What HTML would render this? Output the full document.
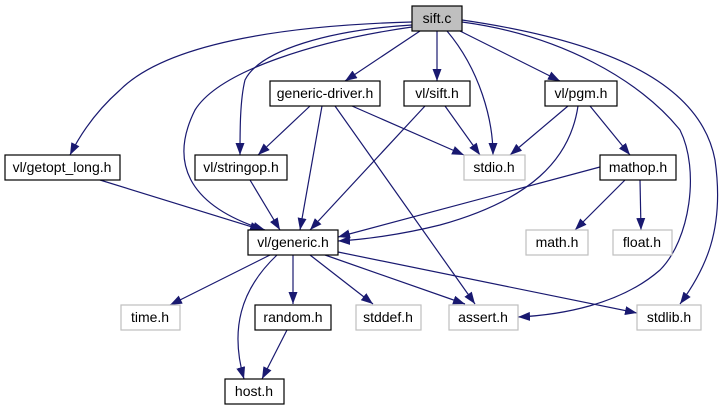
<!DOCTYPE html>
<html><head><meta charset="utf-8"><style>
html,body{margin:0;padding:0;background:#fff;}
svg{display:block;}
text{font-family:"Liberation Sans",sans-serif;font-size:14px;text-anchor:middle;fill:#000;}
</style></head><body>
<svg width="725" height="411" viewBox="0 0 725 411" xmlns="http://www.w3.org/2000/svg">
<defs>
<marker id="a" markerWidth="12" markerHeight="9" refX="12" refY="4.5" orient="auto" markerUnits="userSpaceOnUse">
<path d="M0,0 L12,4.5 L0,9 Z" fill="#191970"/>
</marker>
</defs>
<g fill="none" stroke="#191970" stroke-width="1.2" marker-end="url(#a)">
<path d="M420,31 L345,81"/>
<path d="M437,31 L437,81"/>
<path d="M447,31 C480,70 493,120 493,155"/>
<path d="M460,31 L560,81"/>
<path d="M412,22 C300,25 170,40 120,90 C95,112 80,135 70,155"/>
<path d="M412,25 C330,30 260,50 245,80 C240,100 240,130 240,155"/>
<path d="M412,27 C320,40 220,70 195,110 C170,160 185,205 265,230"/>
<path d="M462,22 C560,35 640,80 680,130 C700,170 690,240 660,270 C620,305 560,315 518,317"/>
<path d="M462,20 C600,40 700,80 715,160 C725,230 705,270 680,304"/>
<path d="M310,106 L258,155"/>
<path d="M322,106 L300,230"/>
<path d="M352,106 L464,155"/>
<path d="M335,106 L475,304"/>
<path d="M445,106 L480,155"/>
<path d="M425,106 L310,230"/>
<path d="M568,106 L510,155"/>
<path d="M578,106 C570,160 530,200 440,225 C400,235 360,240 338,241"/>
<path d="M590,106 L630,155"/>
<path d="M100,180 L262,230"/>
<path d="M250,180 L280,230"/>
<path d="M600,167 L338,237"/>
<path d="M625,180 L575,230"/>
<path d="M640,180 L641,230"/>
<path d="M270,255 L170,305"/>
<path d="M277,255 C240,290 230,330 244,379"/>
<path d="M293,255 L293,304"/>
<path d="M310,255 L373,304"/>
<path d="M325,255 L465,304"/>
<path d="M338,252 L637,313"/>
<path d="M287,330 L262,379"/>
</g>
<g stroke-width="1.2">
<rect x="412" y="6" width="50" height="25" fill="#bfbfbf" stroke="#000"/>
<rect x="270" y="81" width="110" height="25" fill="#fff" stroke="#000"/>
<rect x="404" y="81" width="66" height="25" fill="#fff" stroke="#000"/>
<rect x="545" y="81" width="72" height="25" fill="#fff" stroke="#000"/>
<rect x="5" y="155" width="115" height="25" fill="#fff" stroke="#000"/>
<rect x="195" y="155" width="92" height="25" fill="#fff" stroke="#000"/>
<rect x="464" y="155" width="61" height="25" fill="#fff" stroke="#bfbfbf"/>
<rect x="600" y="155" width="76" height="25" fill="#fff" stroke="#000"/>
<rect x="248" y="230" width="90" height="25" fill="#fff" stroke="#000"/>
<rect x="526" y="230" width="62" height="25" fill="#fff" stroke="#bfbfbf"/>
<rect x="613" y="230" width="59" height="25" fill="#fff" stroke="#bfbfbf"/>
<rect x="121" y="305" width="59" height="25" fill="#fff" stroke="#bfbfbf"/>
<rect x="255" y="305" width="76" height="25" fill="#fff" stroke="#000"/>
<rect x="356" y="305" width="65" height="25" fill="#fff" stroke="#bfbfbf"/>
<rect x="449" y="305" width="69" height="25" fill="#fff" stroke="#bfbfbf"/>
<rect x="637" y="305" width="64" height="25" fill="#fff" stroke="#bfbfbf"/>
<rect x="225" y="379" width="59" height="25" fill="#fff" stroke="#000"/>
</g>
<text x="437" y="23">sift.c</text>
<text x="325" y="98">generic-driver.h</text>
<text x="437" y="98">vl/sift.h</text>
<text x="581" y="98">vl/pgm.h</text>
<text x="62" y="172">vl/getopt_long.h</text>
<text x="241" y="172">vl/stringop.h</text>
<text x="494" y="172">stdio.h</text>
<text x="638" y="172">mathop.h</text>
<text x="293" y="247">vl/generic.h</text>
<text x="557" y="247">math.h</text>
<text x="642" y="247">float.h</text>
<text x="150" y="322">time.h</text>
<text x="293" y="322">random.h</text>
<text x="388" y="322">stddef.h</text>
<text x="483" y="322">assert.h</text>
<text x="669" y="322">stdlib.h</text>
<text x="254" y="396">host.h</text>
</svg>
</body></html>
